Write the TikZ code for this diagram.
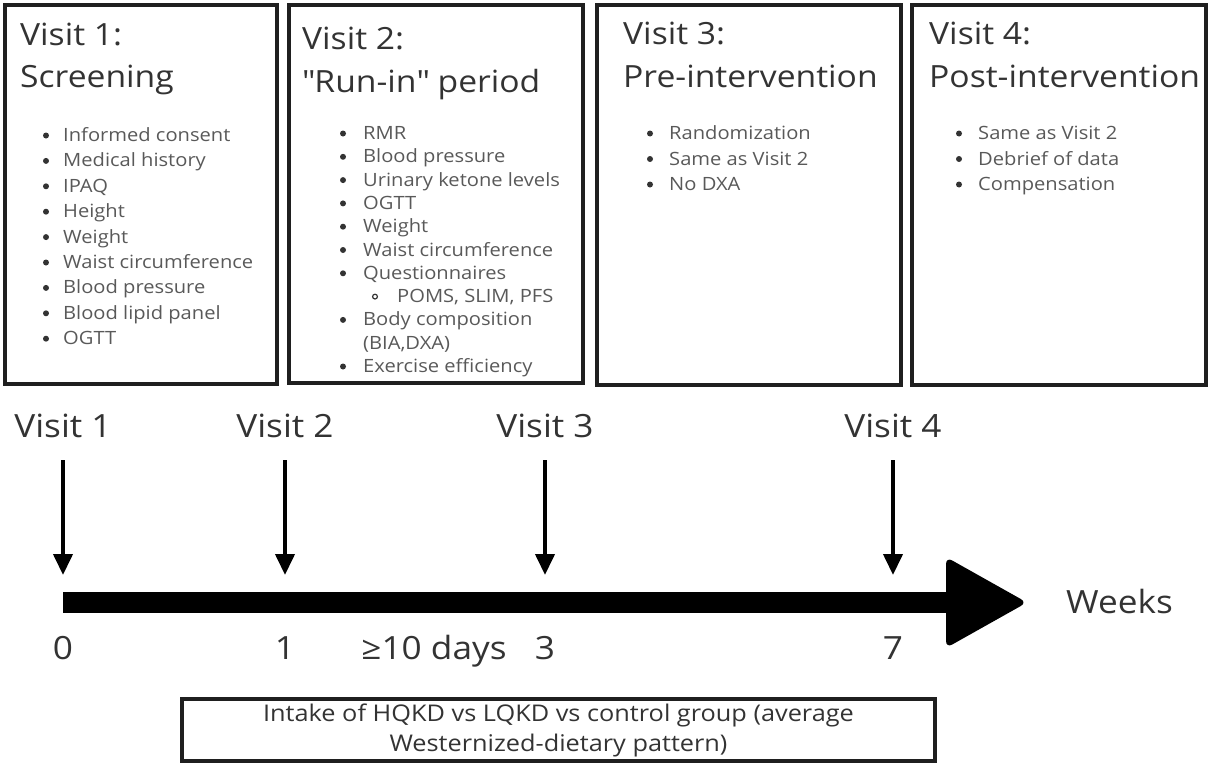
\documentclass[tikz,border=0pt]{standalone}
\usepackage{fontspec}
\setmainfont[FakeStretch=1.1]{Open Sans}
\usetikzlibrary{arrows.meta}
\definecolor{ink}{HTML}{333333}
\definecolor{itemgray}{HTML}{595959}
\tikzset{
  visitbox/.style={draw=black!88, line width=4pt},
  heading/.style={anchor=base west, inner sep=0pt, text=ink, font=\fontsize{30.6}{30.6}\selectfont},
  item/.style={anchor=base west, inner sep=0pt, text=itemgray, font=\fontsize{18.3}{18.3}\selectfont},
  ticklabel/.style={anchor=base, inner sep=0pt, text=ink, font=\fontsize{32}{32}\selectfont},
  visitarrow/.style={line width=4pt, -{Triangle[length=21pt,width=19pt]}},
}
\begin{document}
\begin{tikzpicture}[x=1pt,y=-1pt]
  \useasboundingbox (0,0) rectangle (1208,763);
  % the four visit boxes
  \draw[visitbox] (5,5) rectangle (277,384);
  \draw[visitbox] (289,5) rectangle (583,383);
  \draw[visitbox] (597,5) rectangle (901,385);
  \draw[visitbox] (912,5) rectangle (1206,385);

  \node[heading] (h1) at (20,45) {Visit 1:};
  \node[heading] (h1b) at (20,87) {Screening};
  \node[heading] (h2) at (302,49) {Visit 2:};
  \node[heading] (h2b) at (302,92) {\textquotedbl Run-in\textquotedbl{} period};
  \node[heading] (h3) at (623,44) {Visit 3:};
  \node[heading] (h3b) at (623,87) {Pre-intervention};
  \node[heading] (h4) at (929,44) {Visit 4:};
  \node[heading] (h4b) at (929,87) {Post-intervention};

  % box 1
  \foreach \t [count=\i from 0] in {Informed consent, Medical history, IPAQ, Height, Weight, Waist circumference, Blood pressure, Blood lipid panel, OGTT} {
    \node[item] (a\i) at (63,141.5+25.4*\i) {\t};
    \fill[ink] (46,135.5+25.4*\i) circle (3pt);
  }
  % box 2
  \foreach \i/\t in {0/RMR, 1/Blood pressure, 2/Urinary ketone levels, 3/OGTT, 4/Weight, 5/Waist circumference, 6/Questionnaires, 8/Body composition, 10/Exercise efficiency} {
    \node[item] (b\i) at (363,139.5+23.3*\i) {\t};
    \fill[ink] (343,133.5+23.3*\i) circle (3pt);
  }
  \node[item] (b7) at (397,139.5+23.3*7) {POMS, SLIM, PFS};
  \draw[ink, line width=1.2pt] (375,133.5+23.3*7) circle (2.4pt);
  \node[item] (b9) at (363,139.5+23.3*9) {(BIA,DXA)};
  % box 3
  \foreach \t [count=\i from 0] in {Randomization, Same as Visit 2, No DXA} {
    \node[item] (c\i) at (669,139.5+25.5*\i) {\t};
    \fill[ink] (650,133.5+25.5*\i) circle (3pt);
  }
  % box 4
  \foreach \t [count=\i from 0] in {Same as Visit 2, Debrief of data, Compensation} {
    \node[item] (d\i) at (978,139.5+25.5*\i) {\t};
    \fill[ink] (959,133.5+25.5*\i) circle (3pt);
  }

  % timeline
  \foreach \i/\x/\w in {1/63/0, 2/285/1, 3/545/3, 4/893/7} {
    \node[ticklabel] (v\i) at (\x,437) {Visit \i};
    \coordinate (s\i) at (\x,460);
    \coordinate (e\i) at (\x,575);
    \draw[visitarrow] (s\i) -- (e\i);
    \node[ticklabel] (w\i) at (\x,659) {\w};
  }
  \fill (63,592) rectangle (952,613);
  \fill[rounded corners=7pt] (946,557) -- (1027,602.5) -- (946,648) -- cycle;
  \node[ticklabel, anchor=base west] (weeks) at (1066,613) {Weeks};
  \node[ticklabel] (days) at (434,659) {≥10 days};

  \node[draw=black!88, line width=4pt, minimum width=753pt, minimum height=62pt,
        align=center, text=ink, font=\fontsize{23}{30}\selectfont] (diet) at (558.5,730)
        {Intake of HQKD vs LQKD vs control group (average\\Westernized-dietary pattern)};
\end{tikzpicture}
\end{document}
